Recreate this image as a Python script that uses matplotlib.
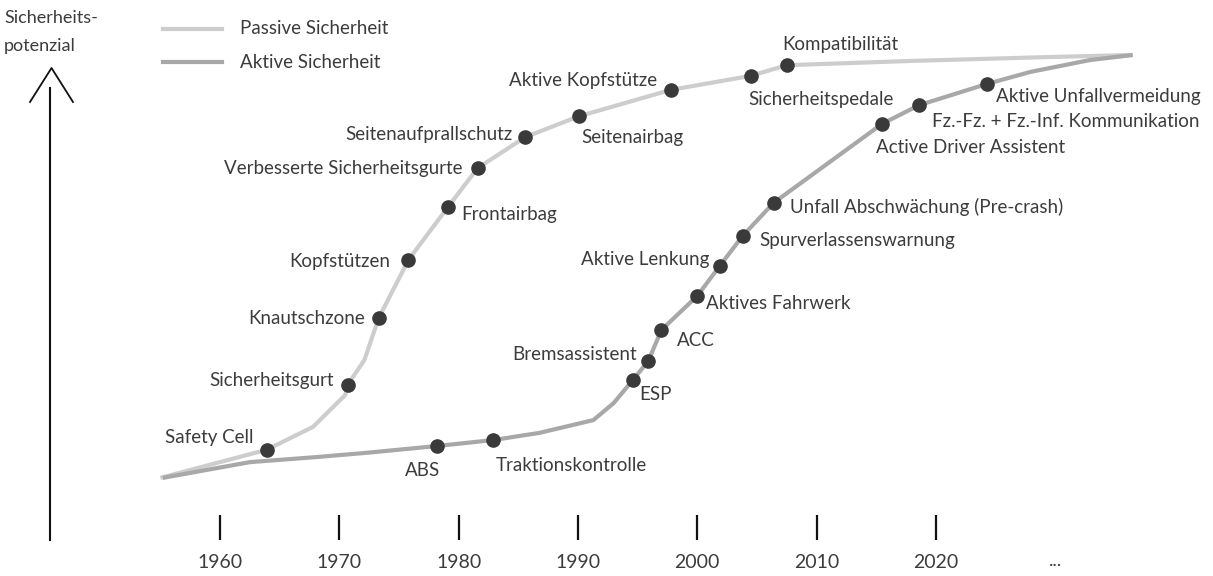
import matplotlib
matplotlib.use("Agg")
import matplotlib.pyplot as plt
from matplotlib.lines import Line2D

plt.rcParams['font.family'] = ['Lato', 'DejaVu Sans']

TEXT = '#3c3c3c'
DOT = '#3a3a3a'
PASSIVE_C = '#cdcdcd'
ACTIVE_C = '#a8a8a8'

# Passive Sicherheit: Jahr, Potenzial (0..100), Bezeichnung ('' = nur Kurvenpunkt)
passive_years = [1955.0, 1963.9, 1967.8, 1970.5, 1970.7, 1972.1, 1973.3, 1975.8, 1979.1, 1981.6,
                 1985.6, 1990.1, 1997.8, 2004.5, 2007.5, 2017.9, 2029.2, 2036.5]
passive_vals = [0.5, 7.1, 12.5, 20.0, 22.4, 28.2, 38.1, 51.8, 64.2, 73.4,
                80.7, 85.6, 91.8, 95.1, 97.6, 98.6, 99.5, 100.0]
passive_labels = ['', 'Safety Cell', '', '', 'Sicherheitsgurt', '', 'Knautschzone', 'Kopfstützen',
                  'Frontairbag', 'Verbesserte Sicherheitsgurte', 'Seitenaufprallschutz',
                  'Seitenairbag', 'Aktive Kopfstütze', 'Sicherheitspedale', 'Kompatibilität',
                  '', '', '']

# Aktive Sicherheit
active_years = [1955.2, 1962.5, 1968.1, 1972.3, 1978.2, 1982.9, 1986.8, 1991.3, 1993.0,
                1994.6, 1995.9, 1997.0, 2000.0, 2001.9, 2003.8, 2006.4, 2015.5, 2018.6,
                2024.3, 2027.9, 2032.9, 2036.5]
active_vals = [0.5, 4.2, 5.4, 6.4, 8.0, 9.4, 11.1, 14.1, 18.1,
               23.5, 28.0, 35.3, 43.3, 50.4, 57.4, 65.2, 83.8, 88.2,
               93.2, 96.0, 98.8, 100.0]
active_labels = ['', '', '', '', 'ABS', 'Traktionskontrolle', '', '', '', 'ESP', 'Bremsassistent',
                 'ACC', 'Aktives Fahrwerk', 'Aktive Lenkung', 'Spurverlassenswarnung',
                 'Unfall Abschwächung (Pre-crash)', 'Active Driver Assistent',
                 'Fz.-Fz. + Fz.-Inf. Kommunikation', 'Aktive Unfallvermeidung', '', '', '']

tick_years = [1960, 1970, 1980, 1990, 2000, 2010, 2020]
tick_labels = ['1960', '1970', '1980', '1990', '2000', '2010', '2020']

# label placement: (ha, dx px, dy px)
label_pos = {
    'Safety Cell': ('right', -13, 12),
    'Sicherheitsgurt': ('right', -14, 4),
    'Knautschzone': ('right', -14, 0),
    'Kopfstützen': ('right', -18, -2),
    'Frontairbag': ('left', 13, -7),
    'Verbesserte Sicherheitsgurte': ('right', -15, 0),
    'Seitenaufprallschutz': ('right', -13, 3),
    'Seitenairbag': ('left', 2, -21),
    'Aktive Kopfstütze': ('right', -14, 9),
    'Sicherheitspedale': ('left', -3, -24),
    'Kompatibilität': ('left', -4, 21),
    'ABS': ('center', -15, -24),
    'Traktionskontrolle': ('left', 3, -25),
    'ESP': ('left', 6, -14),
    'Bremsassistent': ('right', -11, 6),
    'ACC': ('left', 16, -11),
    'Aktives Fahrwerk': ('left', 9, -8),
    'Aktive Lenkung': ('right', -10, 6),
    'Spurverlassenswarnung': ('left', 17, -4),
    'Unfall Abschwächung (Pre-crash)': ('left', 16, -4),
    'Active Driver Assistent': ('left', -6, -24),
    'Fz.-Fz. + Fz.-Inf. Kommunikation': ('left', 13, -16),
    'Aktive Unfallvermeidung': ('left', 9, -13),
}

W, H = 1213, 576
FS = 13.5
fig = plt.figure(figsize=(W / 100, H / 100), dpi=100)
ax = fig.add_axes([0, 0, 1, 1])
ax.set_axis_off()

px_per_year = 11.93
ax.set_xlim(1960 - 220 / px_per_year, 1960 + (W - 220) / px_per_year)
ax.set_ylim((480 - H) / 4.25, 480 / 4.25)

ax.plot(passive_years, passive_vals, color=PASSIVE_C, lw=3, solid_capstyle='butt',
        solid_joinstyle='round', zorder=2)
ax.plot(active_years, active_vals, color=ACTIVE_C, lw=3, solid_capstyle='butt',
        solid_joinstyle='round', zorder=2)

for years, vals, labels in [(passive_years, passive_vals, passive_labels),
                            (active_years, active_vals, active_labels)]:
    for x, y, lab in zip(years, vals, labels):
        if not lab:
            continue
        ax.plot(x, y, 'o', ms=9.5, color=DOT, zorder=3)
        ha, dx, dy = label_pos[lab]
        ax.annotate(lab, (x, y), xytext=(dx, dy), textcoords='offset pixels',
                    ha=ha, va='center', fontsize=FS, color=TEXT)

# x-axis ticks
tick_top = (480 - 515) / 4.25
tick_bot = (480 - 540) / 4.25
ax.vlines(tick_years, tick_bot, tick_top, color='#111111', lw=1.6)
for yr, lab in zip(tick_years, tick_labels):
    ax.text(yr, (480 - 563) / 4.25, lab, ha='center', va='center', fontsize=FS + 0.5, color=TEXT)
ax.text(2030, (480 - 560) / 4.25, '...', ha='center', va='center', fontsize=FS, color=TEXT)

# y-axis arrow
def fx(px):
    return px / W

def fy(py):
    return 1 - py / H

fig.add_artist(Line2D([fx(50), fx(50)], [fy(540), fy(88)], color='#111111', lw=1.5))
fig.add_artist(Line2D([fx(30), fx(51.5), fx(73)], [fy(102), fy(68), fy(102)],
                      color='#111111', lw=1.3))
fig.text(fx(4), fy(18), 'Sicherheits-', ha='left', va='center', fontsize=FS - 0.5, color=TEXT)
fig.text(fx(4), fy(46), 'potenzial', ha='left', va='center', fontsize=FS - 0.5, color=TEXT)

# legend
fig.add_artist(Line2D([fx(163), fx(222)], [fy(29), fy(29)], color=PASSIVE_C, lw=3))
fig.add_artist(Line2D([fx(163), fx(222)], [fy(62), fy(62)], color=ACTIVE_C, lw=3))
fig.text(fx(240), fy(29), 'Passive Sicherheit', ha='left', va='center', fontsize=FS, color=TEXT)
fig.text(fx(240), fy(62), 'Aktive Sicherheit', ha='left', va='center', fontsize=FS, color=TEXT)

fig.savefig('out.png', dpi=100)
